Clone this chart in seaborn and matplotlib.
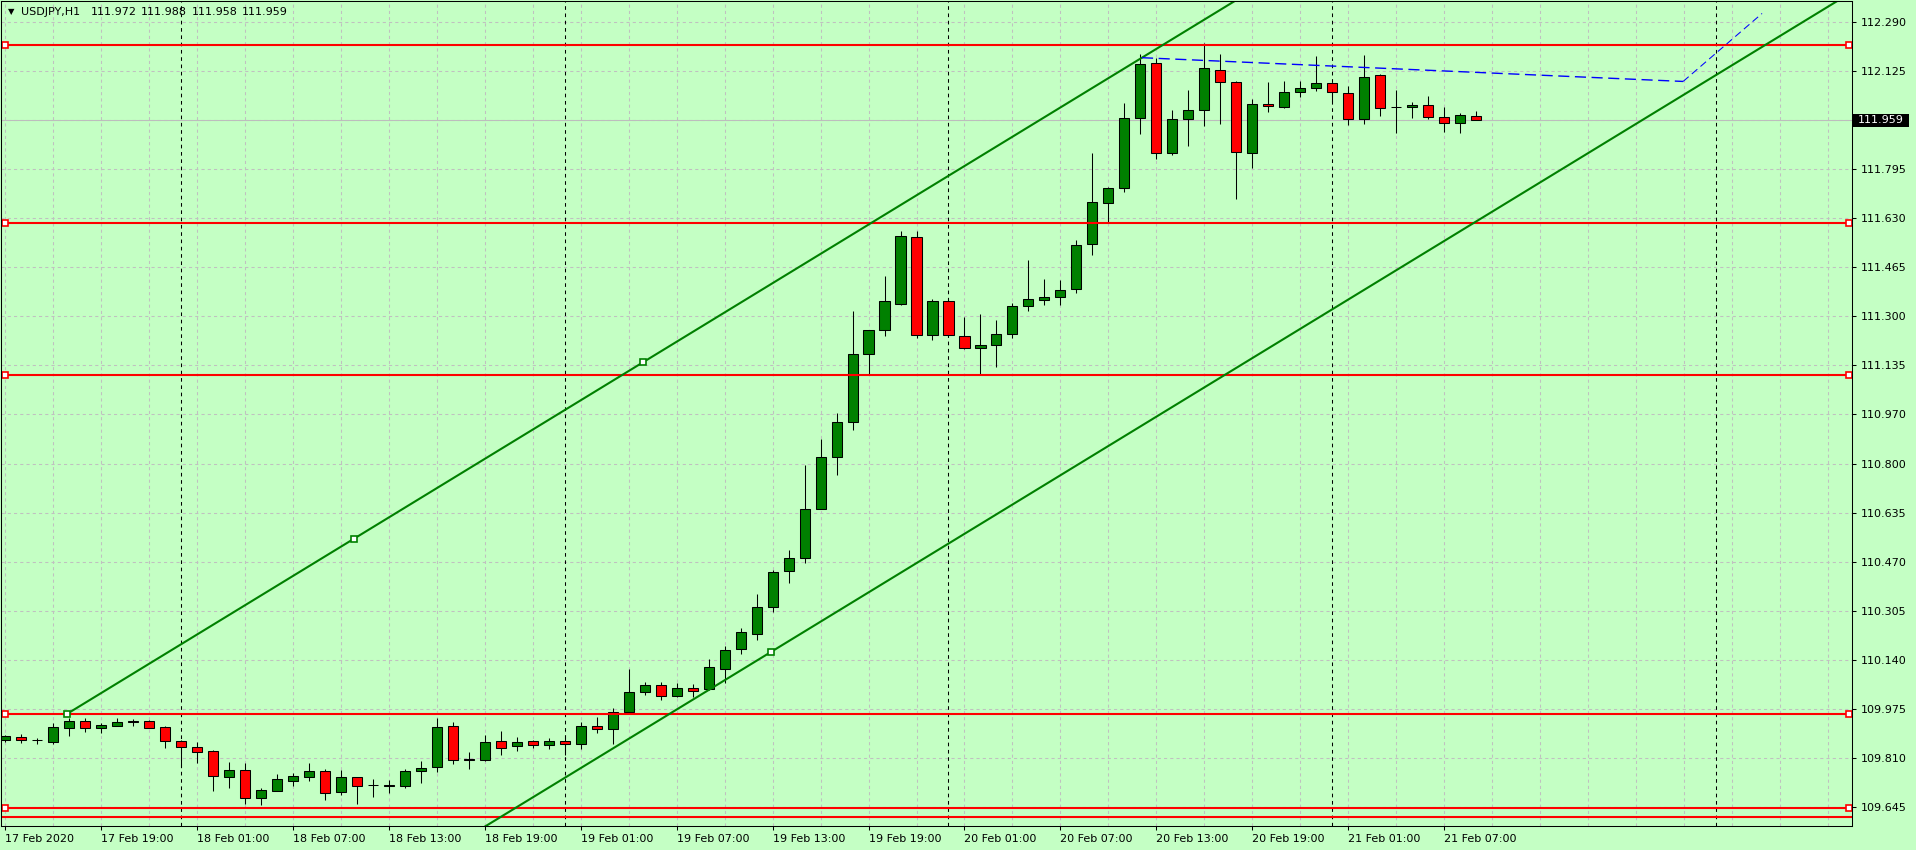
import numpy as np
import pandas as pd
import matplotlib
matplotlib.use("Agg")
import matplotlib.pyplot as plt
import matplotlib.transforms as mtransforms
from matplotlib.patches import Rectangle
import seaborn as sns

# ---------------- data ----------------
symbol_title = "USDJPY,H1"
header_prices = ["111.972", "111.988", "111.958", "111.959"]

opens = [109.872, 109.882, 109.871, 109.865, 109.912, 109.936, 109.912, 109.918, 109.930, 109.936,
         109.914, 109.867, 109.847, 109.833, 109.747, 109.769, 109.674, 109.700, 109.733, 109.747,
         109.766, 109.696, 109.744, 109.720, 109.717, 109.716, 109.765, 109.778, 109.916, 109.805,
         109.802, 109.866, 109.849, 109.866, 109.853, 109.866, 109.856, 109.916, 109.908, 109.966,
         110.031, 110.054, 110.019, 110.045, 110.041, 110.108, 110.178, 110.229, 110.320, 110.440,
         110.482, 110.650, 110.825, 110.940, 111.172, 111.250, 111.340, 111.566, 111.236, 111.351,
         111.233, 111.192, 111.202, 111.239, 111.334, 111.354, 111.364, 111.391, 111.540, 111.679,
         111.731, 111.967, 112.152, 111.849, 111.963, 111.994, 112.128, 112.088, 111.849, 112.014,
         112.004, 112.054, 112.068, 112.085, 112.051, 111.962, 112.111, 112.003, 112.004, 112.010,
         111.970, 111.950, 111.972]
highs = [109.887, 109.889, 109.876, 109.928, 109.945, 109.944, 109.929, 109.945, 109.940, 109.937,
         109.917, 109.870, 109.864, 109.836, 109.796, 109.793, 109.709, 109.756, 109.758, 109.793,
         109.773, 109.769, 109.747, 109.739, 109.735, 109.771, 109.799, 109.944, 109.931, 109.830,
         109.887, 109.900, 109.879, 109.870, 109.876, 109.887, 109.931, 109.948, 109.977, 110.109,
         110.065, 110.065, 110.061, 110.059, 110.142, 110.187, 110.246, 110.362, 110.443, 110.510,
         110.796, 110.884, 110.973, 111.315, 111.252, 111.432, 111.584, 111.584, 111.357, 111.355,
         111.296, 111.305, 111.284, 111.342, 111.486, 111.422, 111.419, 111.554, 111.847, 111.735,
         112.015, 112.182, 112.169, 111.994, 112.059, 112.219, 112.180, 112.091, 112.031, 112.088,
         112.091, 112.091, 112.175, 112.086, 112.074, 112.179, 112.115, 112.061, 112.021, 112.041,
         112.004, 111.984, 111.988]
lows = [109.862, 109.860, 109.858, 109.858, 109.885, 109.897, 109.895, 109.916, 109.918, 109.911,
        109.843, 109.779, 109.793, 109.698, 109.710, 109.655, 109.651, 109.697, 109.715, 109.733,
        109.668, 109.685, 109.655, 109.678, 109.693, 109.707, 109.727, 109.764, 109.789, 109.771,
        109.801, 109.821, 109.834, 109.843, 109.841, 109.820, 109.841, 109.893, 109.856, 109.964,
        110.021, 110.004, 110.016, 110.016, 110.039, 110.063, 110.161, 110.208, 110.302, 110.400,
        110.467, 110.647, 110.762, 110.914, 111.103, 111.232, 111.336, 111.225, 111.218, 111.235,
        111.186, 111.103, 111.127, 111.226, 111.316, 111.336, 111.337, 111.376, 111.504, 111.615,
        111.715, 111.913, 111.828, 111.841, 111.871, 111.939, 111.945, 111.693, 111.797, 111.987,
        112.000, 112.037, 112.058, 112.020, 111.943, 111.946, 111.972, 111.915, 111.966, 111.963,
        111.920, 111.916, 111.958]
closes = [109.884, 109.871, 109.870, 109.913, 109.936, 109.912, 109.921, 109.930, 109.936, 109.912,
          109.868, 109.848, 109.831, 109.750, 109.769, 109.674, 109.702, 109.739, 109.748, 109.766,
          109.693, 109.744, 109.716, 109.719, 109.717, 109.765, 109.776, 109.913, 109.802, 109.803,
          109.862, 109.845, 109.862, 109.852, 109.866, 109.856, 109.916, 109.906, 109.963, 110.031,
          110.054, 110.019, 110.044, 110.037, 110.115, 110.175, 110.233, 110.320, 110.438, 110.482,
          110.650, 110.825, 110.940, 111.172, 111.250, 111.351, 111.569, 111.236, 111.351, 111.236,
          111.192, 111.202, 111.239, 111.334, 111.357, 111.364, 111.388, 111.539, 111.683, 111.731,
          111.967, 112.149, 111.849, 111.963, 111.994, 112.135, 112.088, 111.852, 112.014, 112.007,
          112.054, 112.068, 112.085, 112.054, 111.963, 112.105, 112.000, 112.002, 112.010, 111.970,
          111.950, 111.977, 111.959]

x_tick_labels = ["17 Feb 2020", "17 Feb 19:00", "18 Feb 01:00", "18 Feb 07:00", "18 Feb 13:00",
                 "18 Feb 19:00", "19 Feb 01:00", "19 Feb 07:00", "19 Feb 13:00", "19 Feb 19:00",
                 "20 Feb 01:00", "20 Feb 07:00", "20 Feb 13:00", "20 Feb 19:00", "21 Feb 01:00",
                 "21 Feb 07:00"]
y_tick_values = [112.290, 112.125, 111.795, 111.630, 111.465, 111.300, 111.135, 110.970,
                 110.800, 110.635, 110.470, 110.305, 110.140, 109.975, 109.810, 109.645]
y_tick_labels = ["112.290", "112.125", "111.795", "111.630", "111.465", "111.300", "111.135",
                 "110.970", "110.800", "110.635", "110.470", "110.305", "110.140", "109.975",
                 "109.810", "109.645"]
grid_price_values = [112.290, 112.125, 111.960, 111.795, 111.630, 111.465, 111.300, 111.135,
                     110.970, 110.800, 110.635, 110.470, 110.305, 110.140, 109.975, 109.810, 109.645]
current_price = 111.959
day_separators = [11, 35, 59, 83, 107]          # bar positions of 00:00
red_levels = [112.211, 111.612, 111.099, 109.959, 109.642, 109.612]
red_level_selected = [True, True, True, True, True, False]
# equidistant channel anchors (bar position, price)
channel_a = (3.9, 109.959)
channel_mid = (21.8, 110.548)
channel_b = (39.9, 111.143)
channel_c = (47.9, 110.167)
# blue dashed lines (bar position, price)
blue_x1 = [71.1, 104.94]
blue_y1 = [112.169, 112.089]
blue_x2 = [104.94, 109.875]
blue_y2 = [112.089, 112.318]

# ---------------- styling ----------------
BG = "#C4FFC4"
GREEN = "#008000"
RED = "#FF0000"
GRID = "#C0C0C0"

sns.set_theme(style="white", rc={"axes.facecolor": BG, "figure.facecolor": BG,
                                 "axes.edgecolor": "black", "axes.linewidth": 0.75})
plt.rcParams["font.family"] = ["DejaVu Sans"]

W, H = 1916, 850
fig = plt.figure(figsize=(W / 100, H / 100), dpi=100)
ax = fig.add_axes([1 / W, 24 / H, (1852 - 1) / W, (826 - 0.5) / H - 0 + 0 * 1])
ax.set_position([1 / W, 24 / H, (1852 - 1) / W, (850 - 0.5 - 24) / H])

df = pd.DataFrame({"open": opens, "high": highs, "low": lows, "close": closes})
df["pos"] = np.arange(len(df))
df["bull"] = df["close"] >= df["open"]

ax.set_xlim(-0.25, 115.5)
ax.set_ylim(109.5806, 112.3617)

lw1 = 0.75  # ~1px

# grid
for p in grid_price_values:
    ax.axhline(p, color=GRID, lw=lw1, ls=(0, (3, 3)), zorder=0.5)
for g in range(0, 116, 3):
    ax.axvline(g, color=GRID, lw=lw1, ls=(0, (3, 3)), zorder=0.5)
for s in day_separators:
    ax.axvline(s, color="black", lw=lw1, ls=(0, (3.5, 3.5)), zorder=0.8)

# current price line
ax.axhline(current_price, color="#BDBDBD", lw=lw1, zorder=0.9)

# candles
ax.vlines(df["pos"], df["low"], df["high"], color="black", lw=lw1, zorder=3)
body_bottom = np.minimum(df["open"], df["close"])
body_h = np.maximum(np.abs(df["close"] - df["open"]), 0.0012)
colors = np.where(df["bull"], GREEN, RED)
ax.bar(df["pos"], body_h, bottom=body_bottom, width=0.63, color=colors,
       edgecolor="black", linewidth=lw1, zorder=4)

# red horizontal levels
for lvl, sel in zip(red_levels, red_level_selected):
    ax.axhline(lvl, color=RED, lw=1.5, zorder=5)
    if sel:
        ax.plot([0.03, 115.31], [lvl, lvl], ls="none", marker="s", ms=4.2,
                mfc="white", mec=RED, mew=1.2, zorder=6, clip_on=False)

# channel lines
slope = (channel_b[1] - channel_a[1]) / (channel_b[0] - channel_a[0])
x_end = 117.0
ax.plot([channel_a[0], x_end], [channel_a[1], channel_a[1] + slope * (x_end - channel_a[0])],
        color=GREEN, lw=1.5, zorder=5.5)
ax.plot([channel_a[0], x_end], [channel_c[1] + slope * (channel_a[0] - channel_c[0]),
                                channel_c[1] + slope * (x_end - channel_c[0])],
        color=GREEN, lw=1.5, zorder=5.5)
for pt in [channel_a, channel_mid, channel_b, channel_c]:
    ax.plot([pt[0]], [pt[1]], ls="none", marker="s", ms=4.2, mfc="white", mec=GREEN,
            mew=1.2, zorder=6)

# blue lines
ax.plot(blue_x1, blue_y1, color="#0000FF", lw=1.0, ls=(0, (8, 4)), zorder=5.6)
ax.plot(blue_x2, blue_y2, color="#0000FF", lw=0.75, ls=(0, (7, 4)), zorder=5.6)

# axes ticks
ax.yaxis.tick_right()
ax.set_yticks(y_tick_values)
ax.set_yticklabels(y_tick_labels)
ax.set_xticks(list(range(0, 6 * len(x_tick_labels), 6)))
ax.set_xticklabels(x_tick_labels)
for t in ax.get_xticklabels():
    t.set_horizontalalignment("left")
ax.tick_params(axis="y", direction="out", length=3, width=lw1, pad=3, labelsize=8,
               colors="black", right=True, left=False)
ax.tick_params(axis="x", direction="out", length=3, width=lw1, pad=3, labelsize=8,
               colors="black", bottom=True)
ax.grid(False)
for sp in ax.spines.values():
    sp.set_visible(True)
    sp.set_color("black")
    sp.set_linewidth(lw1)
    sp.set_zorder(10)

# current price label box
trans = mtransforms.blended_transform_factory(fig.transFigure, ax.transData)
box_h_data = 13 * (112.3617 - 109.5806) / 826
fig.patches.append(Rectangle((1853 / W, current_price - box_h_data / 2), 56 / W, box_h_data,
                             transform=trans, facecolor="black", edgecolor="none", zorder=20))
fig.text(1858 / W, current_price, "111.959", transform=trans, color="white", fontsize=8,
         va="center", ha="left", zorder=21)

# header
fig.text(11 / W, 1 - 12 / H, "\u25BC", fontsize=6, ha="center", va="center", color="black")
fig.text(21 / W, 1 - 12 / H, symbol_title, fontsize=8, ha="left", va="center", color="black")
for xp, s in zip([91, 141, 192, 242], header_prices):
    fig.text(xp / W, 1 - 12 / H, s, fontsize=8, ha="left", va="center", color="black")

fig.savefig("out.png", dpi=100, facecolor=BG)
